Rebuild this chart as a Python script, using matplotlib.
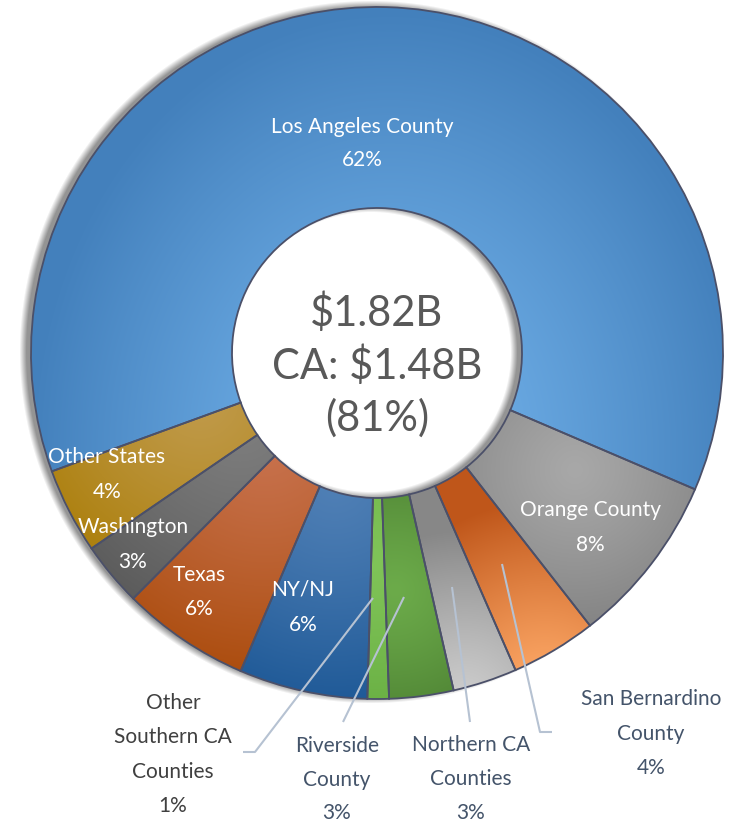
import numpy as np
import matplotlib.pyplot as plt
from matplotlib.colors import to_rgb

# --------------------------------------------------------------------------- #
# data
# --------------------------------------------------------------------------- #
regions = ["Los Angeles County", "Orange County", "San Bernardino County",
           "Northern CA Counties", "Riverside County", "Other Southern CA Counties",
           "NY/NJ", "Texas", "Washington", "Other States"]
shares = [62, 8, 4, 3, 3, 1, 6, 6, 3, 4]                 # percent of total
center_lines = ["$1.82B", "CA: $1.48B", "(81%)"]

# --------------------------------------------------------------------------- #
# layout / style (pixel coords, origin top-left)
# --------------------------------------------------------------------------- #
W, H = 744, 824
CX, CY = 377, 353                                         # ring centre
R_OUT, R_IN = 346, 145                                    # outer / hole radius
START = 200                                               # angle of first wedge edge

# elliptical gradient per wedge: focus x, focus y, radius x, radius y, light, dark
shading = {
    "Los Angeles County":         (390, 450, 360, 440, "#76b6ee", "#4380bc"),
    "Orange County":              (575, 470, 160, 160, "#a8a8a8", "#838383"),
    "San Bernardino County":      (545, 690, 190, 190, "#ffaa68", "#bf561a"),
    "Northern CA Counties":       (465, 700, 170, 170, "#cdcdcd", "#878787"),
    "Riverside County":           (395, 590, 140, 140, "#6cab4a", "#4d8133"),
    "Other Southern CA Counties": (372, 560, 160, 160, "#80c458", "#68ae42"),
    "NY/NJ":                      (335, 480, 230, 230, "#5080b6", "#1d5896"),
    "Texas":                      (265, 440, 260, 260, "#c8724e", "#a84806"),
    "Washington":                 (240, 420, 230, 230, "#7e7e7e", "#575757"),
    "Other States":               (200, 400, 220, 220, "#c09a4a", "#a87a00"),
}

# label anchors: x, y of first line, line gap
inside = {
    "Los Angeles County": (362, 127, 33),
    "Orange County":      (590, 510, 35),
    "Other States":       (107, 457, 35),
    "Washington":         (133, 527, 35),
    "Texas":              (199, 575, 34),
    "NY/NJ":              (303, 590, 35),
}
outside = {
    "Other Southern CA Counties": (173, 703, 34.3, ["Other", "Southern CA", "Counties"], "#404040"),
    "Riverside County":           (337, 746, 33.5, ["Riverside", "County"], "#44546a"),
    "Northern CA Counties":       (471, 745, 34.0, ["Northern CA", "Counties"], "#44546a"),
    "San Bernardino County":      (651, 699, 34.5, ["San Bernardino", "County"], "#44546a"),
}
leaders = {
    "Other Southern CA Counties": [(373, 598), (255, 752), (243, 752)],
    "Riverside County":           [(404, 597), (343, 722)],
    "Northern CA Counties":       [(452, 587), (470, 722)],
    "San Bernardino County":      [(502, 564), (540, 732), (552, 732)],
}

plt.rcParams["font.family"] = ["Lato", "DejaVu Sans"]

fig = plt.figure(figsize=(W / 100, H / 100), dpi=100)
ax = fig.add_axes([0, 0, 1, 1])


def fy(y):
    """pixel row -> data y"""
    return H - y


# soft drop shadow of the ring, shifted a little to the left
xx, yy = np.meshgrid(np.arange(W) + 0.5, np.arange(H) + 0.5)
rs = np.hypot(xx - (CX - 6), yy - (CY - 1))
soft = 7.0
a_out = np.clip((R_OUT + 2 - rs) / soft + 0.5, 0, 1)
a_in = np.clip((rs - R_IN + 2) / soft + 0.5, 0, 1)
shadow = np.zeros((H, W, 4))
shadow[..., 3] = 0.42 * a_out * a_in
ax.imshow(shadow, extent=(0, W, 0, H), origin="upper", zorder=0, interpolation="bilinear")

wedges, _ = ax.pie(shares, startangle=START, counterclock=False,
                   center=(CX, fy(CY)), radius=R_OUT, frame=True,
                   wedgeprops=dict(width=R_OUT - R_IN, facecolor="none",
                                   edgecolor="#4b5069", linewidth=1.3))
ax.set_xlim(0, W)
ax.set_ylim(0, H)
ax.set_aspect("equal")
ax.axis("off")

for w, name in zip(wedges, regions):
    w.set_zorder(3)
    fx_, fy_, rx, ry, c_in, c_out = shading[name]
    t = np.clip(np.hypot((xx - fx_) / rx, (yy - fy_) / ry), 0, 1) ** 1.2
    t = t[..., None]
    img = np.array(to_rgb(c_in)) * (1 - t) + np.array(to_rgb(c_out)) * t
    im = ax.imshow(img, extent=(0, W, 0, H), origin="upper", zorder=2,
                   interpolation="bilinear")
    im.set_clip_path(w)

# percent labels inside the ring
for name, (x, y, gap) in inside.items():
    pct = shares[regions.index(name)]
    ax.text(x, fy(y), name, ha="center", va="center", color="white",
            fontsize=15, zorder=5)
    ax.text(x, fy(y + gap), f"{pct}%", ha="center", va="center", color="white",
            fontsize=15, zorder=5)

# labels outside with leader lines
for name, (x, y, gap, lines, col) in outside.items():
    pct = shares[regions.index(name)]
    for i, s in enumerate(lines + [f"{pct}%"]):
        ax.text(x, fy(y + i * gap), s, ha="center", va="center", color=col,
                fontsize=15, zorder=5)
    pts = np.array(leaders[name], dtype=float)
    ax.plot(pts[:, 0], fy(pts[:, 1]), color="#b6c2d2", lw=1.5, zorder=4,
            solid_capstyle="butt")

# total in the hole
for i, s in enumerate(center_lines):
    ax.text(CX, fy(313 + i * 52.5), s, ha="center", va="center", color="#595959",
            fontsize=30, zorder=5)

fig.savefig("out.png", dpi=100)
